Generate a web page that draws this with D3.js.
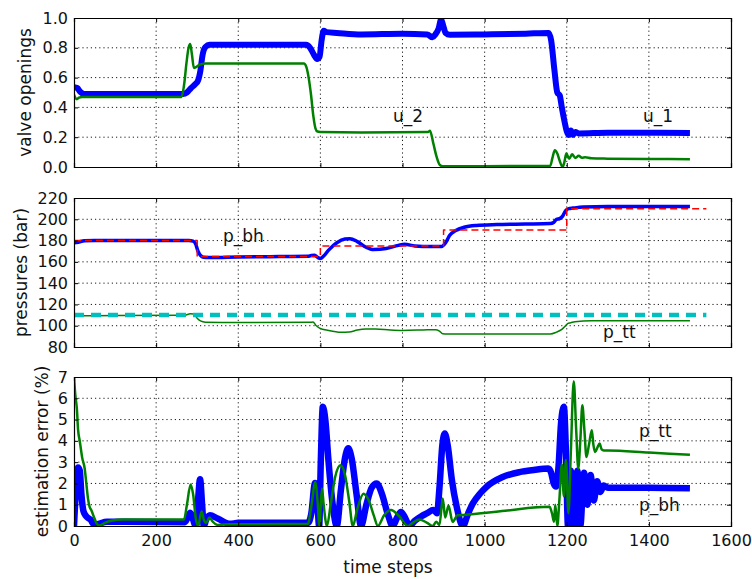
<!DOCTYPE html>
<html>
<head>
<meta charset="utf-8">
<script src="https://cdn.jsdelivr.net/npm/d3@7"></script>
<style>
  body { margin: 0; background: #fff; }
  text { font-family: "DejaVu Sans", sans-serif; fill: #111; }
</style>
</head>
<body>
<svg width="752" height="579"></svg>
<script>
// [time step, value] pairs
const u1 = [[0,0.535],[8,0.53],[15,0.505],[25,0.49],[100,0.49],[265,0.49],[275,0.5],[285,0.53],[295,0.555],[302,0.58],[308,0.65],[313,0.75],[320,0.805],[330,0.82],[450,0.82],[565,0.82],[575,0.8],[585,0.75],[592,0.725],[598,0.74],[603,0.85],[608,0.915],[615,0.905],[640,0.9],[700,0.89],[800,0.895],[860,0.89],[873,0.87],[880,0.89],[888,0.93],[894,0.99],[899,0.95],[905,0.9],[915,0.888],[1000,0.89],[1100,0.895],[1156,0.9],[1162,0.85],[1170,0.65],[1177,0.5],[1183,0.48],[1188,0.4],[1195,0.3],[1200,0.24],[1205,0.215],[1210,0.245],[1215,0.215],[1221,0.235],[1230,0.225],[1300,0.23],[1400,0.23],[1500,0.228]];
const u2 = [[0,0.485],[3,0.465],[7,0.455],[12,0.465],[20,0.47],[100,0.47],[262,0.47],[268,0.55],[274,0.7],[279,0.8],[283,0.825],[287,0.76],[292,0.665],[297,0.67],[305,0.685],[320,0.695],[400,0.695],[560,0.695],[566,0.67],[572,0.59],[577,0.49],[583,0.34],[588,0.26],[593,0.238],[600,0.235],[700,0.232],[862,0.235],[867,0.243],[875,0.159],[883,0.069],[891,0.013],[898,0.005],[1000,0.005],[1160,0.008],[1165,0.06],[1171,0.112],[1177,0.09],[1183,0.04],[1190,0.0],[1194,0.03],[1199,0.09],[1206,0.055],[1213,0.085],[1221,0.06],[1229,0.075],[1237,0.062],[1245,0.065],[1260,0.058],[1300,0.056],[1400,0.054],[1500,0.052]];

const pbh = [[0,178],[10,178.5],[25,179.8],[50,180],[200,180],[280,180],[290,179.5],[296,177],[302,170],[308,166],[315,164.3],[330,164],[400,164.5],[500,165],[570,165.2],[578,166],[586,166.2],[594,164],[600,163.2],[608,165.5],[620,171],[640,178],[660,181.5],[672,181.8],[690,179],[710,174],[730,171.5],[760,172.5],[790,175.5],[805,176.5],[830,175],[870,174.5],[895,174.5],[905,178],[915,185],[930,189.5],[950,192.5],[980,194.2],[1030,195],[1100,195.5],[1160,196],[1168,197],[1175,200],[1182,200.5],[1190,203],[1197,208],[1205,210],[1215,210.5],[1240,211.5],[1300,212],[1500,212]];
const pbhRef = [[0,180],[300,165],[600,175],[900,190],[1200,210],[1540,210]];
const ptt = [[0,109.3],[100,109.5],[270,109.8],[283,111.2],[292,111],[300,107],[308,104.5],[320,103.3],[400,103],[575,103.2],[582,103.5],[590,100],[598,97.8],[620,95.5],[650,93.8],[670,94],[690,96],[710,97],[735,97],[770,96],[800,95.6],[850,96],[880,96.3],[890,95],[898,92.5],[910,92.3],[1000,92.2],[1160,92.3],[1175,94],[1188,96.5],[1196,99.5],[1202,102],[1210,102.8],[1220,103.8],[1260,104.6],[1500,104.6]];
const pttRef = [[0,110],[1540,110]];

const errBh = [[0,0],[5,1.8],[10,2.75],[14,2.6],[18,1.5],[23,0.7],[30,0.45],[40,0.3],[50,0.05],[60,0.1],[80,0.2],[120,0.2],[270,0.18],[277,0.4],[283,0.62],[290,0.3],[296,0],[302,1.2],[307,2.2],[312,1],[316,0],[322,0.3],[331,0.5],[350,0.35],[380,0.1],[400,0.15],[570,0.15],[578,0.6],[587,2.02],[593,1],[597,0],[601,3],[606,5.6],[612,5],[620,3],[630,1],[640,0],[650,1.7],[660,3.2],[668,3.65],[676,3.2],[688,1.5],[699,0],[712,1],[725,1.8],[737,2],[750,1.5],[765,0.5],[776,0],[787,0.4],[796,0.66],[806,0.4],[817,0],[830,0.25],[845,0.45],[860,0.6],[875,0.75],[884,0.6],[890,1.8],[897,3.8],[903,4.35],[910,3.8],[920,2.2],[932,0.9],[947,0],[960,0.6],[971,1.05],[990,1.55],[1004,1.83],[1044,2.3],[1085,2.53],[1120,2.63],[1155,2.7],[1162,2.5],[1168,2],[1174,1.85],[1180,2.8],[1186,4.8],[1193,5.6],[1198,3.5],[1203,0],[1210,2.6],[1218,0],[1226,2.6],[1233,0],[1242,2.5],[1250,1],[1258,2.4],[1266,1.2],[1274,2.1],[1282,1.6],[1290,1.9],[1300,1.8],[1400,1.8],[1500,1.77]];
const errTt = [[0,7],[3,6.2],[7,5.5],[10,4.5],[14,4],[20,3.2],[26,2.7],[30,2],[34,1.3],[38,0.9],[42,0.75],[50,0.35],[56,0.1],[62,0.02],[75,0.15],[90,0.25],[120,0.3],[200,0.3],[268,0.3],[275,1],[284,1.95],[290,1.5],[297,0.3],[303,0],[307,0.4],[311,0.68],[316,0.3],[322,0.15],[330,0.4],[338,0.2],[350,0.05],[380,0.08],[570,0.1],[577,0.8],[588,2.07],[593,1.2],[598,0],[601,1],[604,1.76],[608,1],[616,0],[625,1],[636,2.3],[649,2.85],[660,2.4],[670,1.2],[679,0],[690,0.8],[705,1.52],[718,1.2],[730,0.5],[740,0],[755,0.5],[772,0.75],[790,0.5],[813,0],[825,0.15],[841,0.3],[860,0.15],[874,0],[882,0.2],[890,0.05],[898,1.29],[904,0.4],[912,0.95],[922,0.2],[934,0.5],[950,0.52],[1050,0.72],[1158,0.9],[1164,0.6],[1169,0.2],[1172,1],[1177,0],[1182,1.2],[1188,2.9],[1193,1.4],[1198,3.1],[1204,0.6],[1210,3.5],[1217,6.8],[1223,4.5],[1228,2.7],[1233,4],[1238,5.67],[1243,4.5],[1248,3.24],[1254,3.8],[1261,4.5],[1265,3.8],[1269,3.48],[1275,3.7],[1280,3.87],[1285,3.6],[1290,3.55],[1300,3.55],[1400,3.45],[1500,3.35]];

const xTicks = [0, 200, 400, 600, 800, 1000, 1200, 1400, 1600];
const uTicks = [0, 0.2, 0.4, 0.6, 0.8, 1.0];
const pTicks = [80, 100, 120, 140, 160, 180, 200, 220];
const eTicks = [0, 1, 2, 3, 4, 5, 6, 7];

const svg = d3.select('svg');
const left = 74, right = 731;

const x = d3.scaleLinear().domain([0, 1600]).range([left, right]);

function panel(id, top, bottom, ticks, fmt, label, labelX) {
    const y = d3.scaleLinear().domain(d3.extent(ticks)).range([bottom, top]);
    const g = svg.append('g');

    svg.append('clipPath').attr('id', id)
        .append('rect')
        .attr('x', left).attr('y', top)
        .attr('width', right - left).attr('height', bottom - top);

    // dotted grid
    g.selectAll('.gx').data(xTicks.slice(1, -1)).join('line')
        .attr('x1', d => x(d)).attr('x2', d => x(d))
        .attr('y1', top).attr('y2', bottom)
        .attr('stroke', '#000').attr('stroke-width', 0.9).attr('stroke-dasharray', '1.2,3');
    g.selectAll('.gy').data(ticks.slice(1, -1)).join('line')
        .attr('y1', d => y(d)).attr('y2', d => y(d))
        .attr('x1', left).attr('x2', right)
        .attr('stroke', '#000').attr('stroke-width', 0.9).attr('stroke-dasharray', '1.2,3');

    const plot = svg.append('g').attr('clip-path', `url(#${id})`);

    const axes = svg.append('g');
    axes.append('g')
        .attr('transform', `translate(${left},0)`)
        .call(d3.axisLeft(y).tickValues(ticks).tickFormat(fmt).tickSize(-4).tickPadding(6));
    axes.append('g')
        .attr('transform', `translate(${right},0)`)
        .call(d3.axisRight(y).tickValues(ticks).tickFormat('').tickSize(-4));
    axes.append('g')
        .attr('transform', `translate(0,${top})`)
        .call(d3.axisTop(x).tickValues(xTicks).tickFormat('').tickSize(-4));
    const xb = axes.append('g')
        .attr('transform', `translate(0,${bottom})`)
        .call(d3.axisBottom(x).tickValues(xTicks).tickFormat(d3.format('d')).tickSize(-4).tickPadding(9));
    if (id !== 'c3') xb.selectAll('text').remove();

    axes.selectAll('.domain').attr('stroke', '#000').attr('stroke-width', 1.2);
    axes.selectAll('.tick line').attr('stroke', '#000');
    axes.selectAll('text')
        .style('font-family', '"DejaVu Sans", sans-serif')
        .style('font-size', '16px')
        .attr('fill', '#1a1a1a');

    svg.append('text')
        .attr('transform', `translate(${labelX},${(top + bottom) / 2}) rotate(-90)`)
        .attr('text-anchor', 'middle')
        .style('font-size', '17px')
        .text(label);

    return {y, plot};
}

const p1 = panel('c1', 18, 167, uTicks, d3.format('.1f'), 'valve openings', 31);
const p2 = panel('c2', 198, 347, pTicks, d3.format('d'), 'pressures (bar)', 27);
const p3 = panel('c3', 377, 526, eTicks, d3.format('d'), 'estimation error (%)', 48);

function draw(p, data, color, width, dash, curve) {
    const line = d3.line()
        .x(d => x(d[0]))
        .y(d => p.y(d[1]))
        .curve(curve || d3.curveMonotoneX);
    p.plot.append('path')
        .attr('d', line(data))
        .attr('fill', 'none')
        .attr('stroke', color)
        .attr('stroke-width', width)
        .attr('stroke-linejoin', 'round')
        .attr('stroke-dasharray', dash);
}

draw(p1, u1, '#0000ff', 6, null);
draw(p1, u2, '#008000', 2.5, null);

draw(p2, pbh, '#0000ff', 3.5, null);
draw(p2, ptt, '#008000', 1.5, null);
draw(p2, pbhRef, '#ff0000', 1.5, '7,4', d3.curveStepAfter);
draw(p2, pttRef, '#00bfbf', 4.5, '10,7', d3.curveLinear);

draw(p3, errBh, '#0000ff', 6.5, null);
draw(p3, errTt, '#008000', 2.5, null);

// curve annotations
const notes = [
    {t: 'u_2', x: 393, y: 122},
    {t: 'u_1', x: 643, y: 122},
    {t: 'p_bh', x: 223, y: 242},
    {t: 'p_tt', x: 603, y: 338},
    {t: 'p_tt', x: 639, y: 437},
    {t: 'p_bh', x: 639, y: 511}
];
svg.selectAll('.note').data(notes).join('text')
    .attr('x', d => d.x).attr('y', d => d.y)
    .style('font-size', '17px')
    .text(d => d.t);

svg.append('text')
    .attr('x', 388).attr('y', 573)
    .attr('text-anchor', 'middle')
    .style('font-size', '17px')
    .text('time steps');
</script>
</body>
</html>
